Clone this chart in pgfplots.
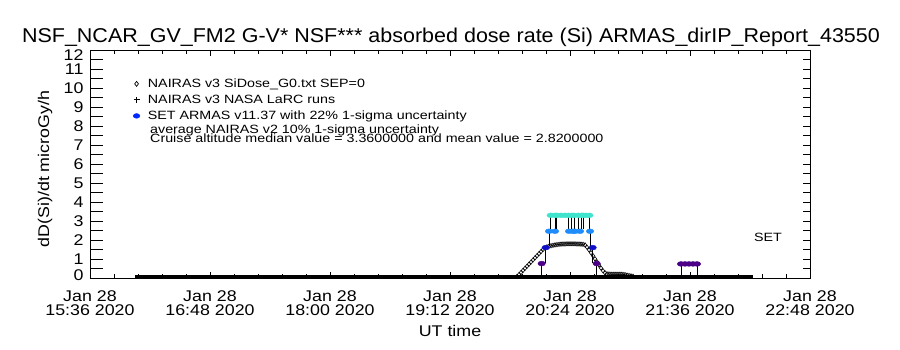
\documentclass[border=0pt]{standalone}
\usepackage{pgfplots}
\pgfplotsset{compat=1.18}
\usepackage{fontspec}
\setmainfont{Liberation Sans}
\newfontfamily\hf[FakeStretch=1.15]{Liberation Sans}
\newfontfamily\lf[FakeStretch=1.19]{Liberation Sans}
\newfontfamily\ttl[FakeStretch=1.075]{Liberation Sans}
\definecolor{setpurple}{RGB}{75,0,135}
\definecolor{setdark}{RGB}{15,15,200}
\definecolor{setmed}{RGB}{30,140,250}
\definecolor{setcyan}{RGB}{64,228,205}
\definecolor{legblue}{RGB}{0,40,255}
\newcommand{\tfont}{\hf\fontsize{15.5}{14.5}\selectfont}
\newcommand{\lfont}{\lf\fontsize{12}{13}\selectfont}
\pgfplotsset{setpts/.style={only marks, mark=*, mark size=3pt, forget plot,
  mark options={xscale=1.25,yscale=0.8},
  error bars/y dir=minus, error bars/y explicit, error bars/error bar style={black, line width=0.6pt}, error bars/error mark=none},
  frame/.style={at={(90pt,72pt)}, anchor=south west, scale only axis,
  width=720pt, height=228pt, xmin=15.6, xmax=22.8, ymin=0, ymax=12,
  tick style={black, line width=0.6pt}, axis line style={line width=0.8pt}}}
\begin{document}
\begin{tikzpicture}[x=1pt,y=1pt]
\useasboundingbox (0,0) rectangle (900,350);
\node at (451,313) {\ttl\fontsize{20}{22}\selectfont NSF\_NCAR\_GV\_FM2 G-V* NSF*** absorbed dose rate (Si) ARMAS\_dirIP\_Report\_43550};
% right-hand y tick marks (short)
\begin{axis}[frame, xtick=\empty, ytick={0,...,12}, minor y tick num=1,
  ytick pos=right, yticklabels={}, major tick length=7pt, minor tick length=7pt]
\end{axis}
% left-hand y tick marks (long)
\begin{axis}[frame, xtick=\empty, ytick={0,...,12}, minor y tick num=1,
  ytick pos=left, yticklabels={}, major tick length=13pt, minor tick length=13pt]
\end{axis}
\begin{axis}[frame,
  /pgf/number format/assume math mode=true,
  ytick={0,...,12}, ytick pos=left, y tick style={draw=none},
  yticklabels={\raisebox{-2.5pt}[0pt][0pt]{0},1,2,3,4,5,6,7,8,9,10,11,\raisebox{-10.5pt}[0pt][0pt]{12}},
  yticklabel style={font=\tfont, xshift=-3pt},
  xtick={15.6,16.8,18.0,19.2,20.4,21.6,22.8}, minor x tick num=4,
  major tick length=6pt, minor tick length=4pt,
  xticklabels={{Jan 28\\15:36 2020},{Jan 28\\16:48 2020},{Jan 28\\18:00 2020},{Jan 28\\19:12 2020},{Jan 28\\20:24 2020},{Jan 28\\21:36 2020},{Jan 28\\22:48 2020}},
  xticklabel style={font=\tfont, align=center, yshift=-9pt},
  xlabel={UT time}, xlabel style={font=\tfont, at={(axis description cs:0.5,-0.232)}, anchor=center},
  ylabel={dD(Si)/dt microGy/h}, ylabel style={font=\tfont, at={(axis description cs:-0.0625,0.478)}, anchor=center},
  clip=false,
  legend style={draw=none, fill=none, font=\lfont, at={(axis cs:16.03,10.55)}, anchor=north west,
    row sep=4pt, column sep=7pt, inner sep=0pt, legend cell align=left, nodes={inner sep=1pt}},
  legend image code/.code={\draw[#1] plot coordinates {(3pt,0pt)};}
]
% legend images
\addlegendimage{only marks, mark=diamond, mark size=2.5pt, black, line width=0.7pt}
\addlegendentry{NAIRAS v3 SiDose\_G0.txt SEP=0}
\addlegendimage{only marks, mark=+, mark size=3pt, black, line width=0.8pt}
\addlegendentry{NAIRAS v3 NASA LaRC runs}
\addlegendimage{only marks, mark=*, mark size=2.8pt, legblue, mark options={xscale=1.2,yscale=0.85}}
\addlegendentry{SET ARMAS v11.37 with 22\% 1-sigma uncertainty}
% baseline of NAIRAS v3
\addplot[black, line width=2.2pt, forget plot] coordinates {
(16.05,0.08) (16.5,0.08) (17.0,0.08) (17.5,0.08) (18.0,0.08) (18.5,0.08) (19.0,0.08) (19.5,0.08) (19.85,0.08)
(20.2,0.08) (20.6,0.08) (21.0,0.08) (21.5,0.08) (22.0,0.08) (22.23,0.08)};
% NAIRAS v3 enhanced region (diamonds)
\addplot[black, only marks, mark=diamond, mark size=2.2pt, line width=0.6pt, forget plot] coordinates {
(19.87,0.08) (19.89,0.18) (19.91,0.29) (19.93,0.40) (19.95,0.51) (19.97,0.62) (19.99,0.73) (20.01,0.84)
(20.03,0.95) (20.05,1.06) (20.07,1.17) (20.09,1.28) (20.11,1.39) (20.13,1.50) (20.15,1.58)
(20.17,1.64) (20.19,1.67) (20.21,1.70) (20.23,1.72) (20.25,1.74) (20.27,1.76) (20.29,1.77) (20.31,1.78)
(20.33,1.79) (20.35,1.79) (20.37,1.80) (20.39,1.80) (20.41,1.80) (20.43,1.80) (20.45,1.80) (20.47,1.79)
(20.49,1.79) (20.51,1.78) (20.53,1.77) (20.55,1.74) (20.57,1.62) (20.59,1.48) (20.61,1.33) (20.63,1.17)
(20.65,1.01) (20.67,0.85) (20.69,0.68) (20.71,0.52) (20.73,0.38) (20.75,0.27) (20.77,0.22) (20.79,0.21)
(20.81,0.20) (20.83,0.20) (20.85,0.20) (20.87,0.20) (20.89,0.20) (20.91,0.20) (20.93,0.19) (20.95,0.18)
(20.97,0.15) (20.99,0.13) (21.01,0.11) (21.03,0.09)};
% SET ARMAS, coloured by level, with lower error bars
\addplot[setpurple, setpts] table[x=x, y=y, y error minus=e] {
x y e
20.117 0.76 0.70
20.667 0.76 0.70
21.51 0.74 0.60
21.55 0.74 0
21.59 0.74 0
21.63 0.74 0
21.67 0.74 0.60
};
\addplot[setdark, setpts] table[x=x, y=y, y error minus=e] {
x y e
20.157 1.60 0.80
20.627 1.60 0.80
};
\addplot[setmed, setpts] table[x=x, y=y, y error minus=e] {
x y e
20.19 2.46 0.80
20.25 2.46 0
20.39 2.46 0
20.43 2.46 0
20.45 2.46 0
20.50 2.46 0
20.60 2.46 0.80
};
\addplot[setcyan, setpts] table[x=x, y=y, y error minus=e] {
x y e
20.207 3.30 0.72
20.25 3.30 0.72
20.267 3.30 0.72
20.31 3.30 0
20.35 3.30 0
20.383 3.30 0.72
20.417 3.30 0.72
20.44 3.30 0.72
20.483 3.30 0.72
20.517 3.30 0.72
20.533 3.30 0.72
20.56 3.30 0
20.593 3.30 0.72
};
\node[anchor=base west, font=\lfont, inner sep=0pt] at (axis cs:16.2,7.6) {average NAIRAS v2 10\% 1-sigma uncertainty};
\node[anchor=base west, font=\lfont, inner sep=0pt] at (axis cs:16.2,7.12) {Cruise altitude median value = 3.3600000 and mean value = 2.8200000};
\node[font=\lfont] at (axis cs:22.38,2.16) {SET};
\end{axis}
\end{tikzpicture}
\end{document}
